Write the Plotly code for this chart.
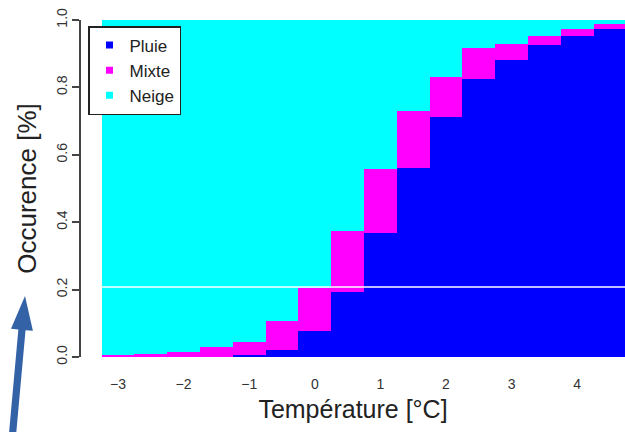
import plotly.graph_objects as go
import math

# ---- data ----
temperature = [-3.0, -2.5, -2.0, -1.5, -1.0, -0.5, 0.0, 0.5, 1.0, 1.5, 2.0, 2.5, 3.0, 3.5, 4.0, 4.5]
pluie = [0.000, 0.000, 0.000, 0.000, 0.007, 0.020, 0.077, 0.193, 0.368, 0.560, 0.711, 0.824, 0.881, 0.925, 0.952, 0.973]
mixte = [0.007, 0.010, 0.015, 0.029, 0.039, 0.086, 0.129, 0.180, 0.189, 0.171, 0.119, 0.094, 0.047, 0.028, 0.020, 0.014]
neige = [0.993, 0.990, 0.985, 0.971, 0.954, 0.894, 0.794, 0.627, 0.443, 0.269, 0.170, 0.082, 0.072, 0.047, 0.028, 0.013]
bin_width = 0.5
seuil = 0.208
x_ticks = [-3, -2, -1, 0, 1, 2, 3, 4]
y_ticks = [0.0, 0.2, 0.4, 0.6, 0.8, 1.0]
series_names = ["Pluie", "Mixte", "Neige"]
series_colors = ["#0000FF", "#FF00FF", "#00FFFF"]

# ---- layout geometry ----
W, H = 625, 432
ML, MR, MT, MB = 81, 0, 20, 75
PPU = 65.6          # pixels per degree
ZERO_PX = 314.8     # pixel x of 0 degC
x_range = [(ML - ZERO_PX) / PPU, (W - MR - ZERO_PX) / PPU]
PW, PH = W - ML - MR, H - MT - MB

def to_paper(px, py):
    return (px - ML) / PW, (H - MB - py) / PH

FONT = "Liberation Sans, Arial, Helvetica, sans-serif"

fig = go.Figure()
for name, vals, col in zip(series_names, [pluie, mixte, neige], series_colors):
    fig.add_trace(go.Bar(x=temperature, y=vals, width=bin_width, name=name,
                         marker=dict(color=col, line=dict(width=0)),
                         showlegend=False))
    fig.add_trace(go.Scatter(x=[None], y=[None], mode="markers", name=name,
                             marker=dict(symbol="square", size=7, color=col)))

# threshold line
fig.add_shape(type="line", xref="x", yref="y",
              x0=temperature[0] - bin_width / 2, x1=temperature[-1] + bin_width / 2,
              y0=seuil, y1=seuil, line=dict(color="white", width=1.5))

# blue arrow (decoration outside plot)
tail = (12, 440)
tip = (25, 296)
dx, dy = tip[0] - tail[0], tip[1] - tail[1]
ln = math.hypot(dx, dy)
ux, uy = dx / ln, dy / ln
nx, ny = -uy, ux
head_len = 34
base = (tip[0] - ux * head_len, tip[1] - uy * head_len)
sw, hw = 3.6, 11
pts = [
    (tail[0] - nx * sw, tail[1] - ny * sw),
    (base[0] - nx * sw, base[1] - ny * sw),
    (base[0] - nx * hw, base[1] - ny * hw),
    tip,
    (base[0] + nx * hw, base[1] + ny * hw),
    (base[0] + nx * sw, base[1] + ny * sw),
    (tail[0] + nx * sw, tail[1] + ny * sw),
]
path = "M " + " L ".join("%.5f,%.5f" % to_paper(*p) for p in pts) + " Z"
fig.add_shape(type="path", xref="paper", yref="paper", path=path,
              fillcolor="#3462A6", line=dict(width=0), layer="above")

fig.update_layout(
    width=W, height=H,
    margin=dict(l=ML, r=MR, t=MT, b=MB, pad=0),
    paper_bgcolor="white", plot_bgcolor="white",
    barmode="stack", bargap=0,
    font=dict(family=FONT, color="#222"),
    showlegend=True,
    legend=dict(x=(88 - ML) / PW, y=(H - MB - 26) / PH, xanchor="left", yanchor="top",
                bgcolor="white", bordercolor="#222", borderwidth=1.5,
                font=dict(size=17, color="#222"), traceorder="normal",
                itemsizing="trace", tracegroupgap=0),
    xaxis=dict(range=x_range, tickmode="array", tickvals=x_ticks,
               showline=False, showgrid=False, zeroline=False,
               ticks="outside", ticklen=14, tickcolor="rgba(0,0,0,0)",
               tickfont=dict(size=14, color="#333"),
               title=dict(text="Température [°C]", font=dict(size=25, color="#222"), standoff=9)),
    yaxis=dict(range=[0, 1], tickmode="array", tickvals=y_ticks, tickformat=".1f",
               showline=True, linecolor="#444", linewidth=1.5,
               ticks="outside", ticklen=7, tickwidth=1.5, tickcolor="#444",
               tickangle=-90, showgrid=False, zeroline=False,
               tickfont=dict(size=14, color="#333"),
               title=dict(text="Occurence [%]", font=dict(size=26, color="#222"), standoff=10)),
)

fig.write_html("out.html")
